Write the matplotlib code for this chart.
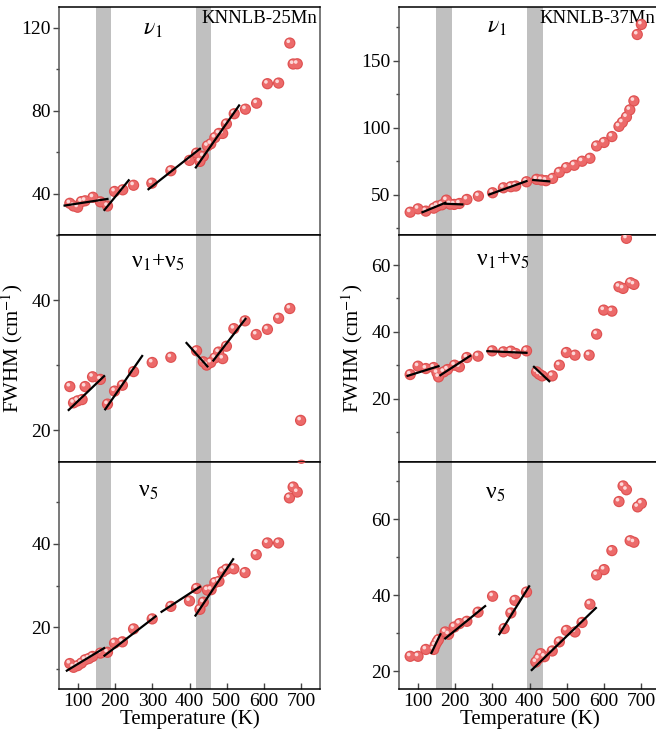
import matplotlib
matplotlib.use('Agg')
import matplotlib.pyplot as plt
from matplotlib.transforms import offset_copy
from matplotlib.ticker import MultipleLocator

plt.rcParams['font.family'] = ['Liberation Serif', 'DejaVu Serif']
plt.rcParams['mathtext.fontset'] = 'stix'

# ---- KNNLB-25Mn ----
t25_v1 = [79, 89, 100, 110, 120, 141, 161, 180, 199, 221, 250, 299, 350, 400, 419, 428, 437,
          448, 457, 468, 479, 489, 499, 520, 550, 580, 609, 639, 669, 678, 689]
w25_v1 = [35.3, 34, 33.4, 36.1, 36.5, 38.2, 36, 34, 41, 41.8, 44, 45, 51, 56, 59.5, 55.5, 58,
          63, 64, 67, 69, 69, 73.6, 78.5, 80.7, 83.6, 93, 93.3, 112.6, 102.5, 102.6]
fit25_v1 = [([65, 180], [34.2, 37.4]), ([172, 237], [32.1, 46.4]),
            ([290, 428], [42.1, 61.6]), ([417, 533], [52.6, 82.5])]

t25_v15 = [79, 89, 100, 112, 120, 140, 161, 180, 199, 220, 250, 300, 350, 419, 437, 446, 457,
           468, 478, 489, 499, 519, 549, 579, 609, 639, 669, 698, 700]
w25_v15 = [26.7, 24.2, 24.5, 24.7, 26.7, 28.2, 27.8, 24, 26, 26.9, 29, 30.4, 31.2, 32.2, 30.5,
           30, 30.4, 31.1, 32, 31, 32.9, 35.6, 36.8, 34.7, 35.5, 37.2, 38.7, 21.5, 14.6]
fit25_v15 = [([76, 171], [23.1, 28.3]), ([174, 273], [23.2, 31.4]),
             ([392, 448], [33.4, 29.8]), ([464, 550], [30.7, 37.1])]

t25_v5 = [79, 89, 100, 110, 120, 130, 140, 161, 180, 199, 220, 250, 300, 350, 400, 419, 428,
          437, 448, 458, 468, 479, 489, 499, 519, 549, 579, 609, 639, 668, 678, 689, 700]
w25_v5 = [11.3, 10.4, 10.8, 11.4, 12.2, 12.5, 13, 13.8, 14, 16.2, 16.5, 19.6, 22, 25, 26.3,
          29.3, 24.3, 26, 28.9, 29, 30.7, 31, 33.3, 33.9, 34, 33.1, 37.4, 40.2, 40.2, 51,
          53.6, 52.4, 60.5]
fit25_v5 = [([71, 171], [9.6, 15]), ([172, 309], [13.2, 22.6]),
            ([325, 428], [23.7, 29.7]), ([416, 517], [22.8, 36.3])]

# ---- KNNLB-37Mn ----
t37_v1 = [80, 101, 122, 143, 152, 165, 177, 187, 198, 212, 232, 263, 301, 330, 350, 363, 392,
          419, 432, 444, 462, 480, 499, 520, 541, 562, 580, 600, 621, 640, 649, 660, 669, 680,
          689, 700]
w37_v1 = [37, 39.5, 37.8, 40, 41.5, 42.5, 46, 43, 42.8, 43.5, 46.5, 49, 51.5, 55.2, 56, 56.5,
          59.7, 61.5, 61, 60.5, 62.2, 66.7, 70.2, 72, 75, 77.2, 86.4, 89, 93.4, 101, 104, 108,
          113.3, 120, 169.5, 177]
fit37_v1 = [([113, 174], [37, 44]), ([174, 220], [43.3, 42.8]),
            ([292, 392], [50.2, 60.2]), ([410, 453], [61, 60])]

t37_v15 = [80, 101, 122, 143, 152, 156, 170, 180, 199, 212, 232, 262, 300, 330, 350, 363, 392,
           419, 426, 434, 461, 480, 499, 522, 560, 580, 599, 621, 640, 651, 660, 671, 680]
w37_v15 = [27.2, 29.7, 29, 29.3, 27.7, 26.5, 28, 28.7, 30, 29.5, 32.3, 32.7, 34.3, 34, 34.2,
           33.5, 34.3, 28, 27.3, 26.8, 26.8, 30, 33.8, 33, 33, 39.3, 46.5, 46.2, 53.5, 53, 68,
           54.7, 54.2]
fit37_v15 = [([73, 156], [26.8, 29.7]), ([161, 241], [27, 32.8]),
             ([287, 392], [34.2, 33.7]), ([412, 453], [29.5, 25.2])]

t37_v5 = [80, 101, 122, 143, 147, 152, 156, 174, 183, 198, 212, 232, 262, 301, 332, 350, 361,
          392, 417, 424, 430, 440, 461, 480, 499, 522, 541, 562, 580, 600, 621, 640, 651, 660,
          670, 680, 690, 700]
w37_v5 = [23.9, 23.9, 25.7, 25.7, 26.8, 27.7, 28.3, 30.3, 29.7, 31.6, 32.5, 33.1, 35.5, 39.7,
          31.2, 35.3, 38.6, 40.8, 22.4, 23.3, 24.6, 23.8, 25.3, 27.7, 30.7, 30.3, 32.8, 37.6,
          45.3, 46.7, 51.7, 64.6, 68.7, 67.7, 54.3, 53.9, 63.2, 64.1]
fit37_v5 = [([137, 161], [24.8, 29.7]), ([174, 281], [28.6, 37.1]),
            ([319, 399], [29.7, 42.3]), ([406, 578], [20.3, 36.6])]

bands25 = [(150, 190), (418, 457)]
bands37 = [(150, 191), (393, 435)]

fig = plt.figure(figsize=(6.56, 7.33), dpi=100)
W, H = 656.0, 733.0


def make_ax(x0, y_top, y_bot):
    return fig.add_axes([x0 / W, 1 - y_bot / H, 261 / W, (y_bot - y_top) / H])


rows = [(7, 235), (235, 462), (462, 689)]
left = [make_ax(59, a, b) for a, b in rows]
right = [make_ax(399, a, b) for a, b in rows]

panels = [
    (left[0], t25_v1, w25_v1, fit25_v1, bands25, (20, 130), 40, 20),
    (left[1], t25_v15, w25_v15, fit25_v15, bands25, (15.1, 50), 20, 10),
    (left[2], t25_v5, w25_v5, fit25_v5, bands25, (5.2, 59.6), 20, 10),
    (right[0], t37_v1, w37_v1, fit37_v1, bands37, (20, 190), 50, 25),
    (right[1], t37_v15, w37_v15, fit37_v15, bands37, (1, 69), 20, 10),
    (right[2], t37_v5, w37_v5, fit37_v5, bands37, (15.3, 75), 20, 10),
]

for ax, t, w, fits, bands, ylim, major, minor in panels:
    for a, b in bands:
        ax.axvspan(a, b, color='#c0c0c0', lw=0, zorder=1)
    ax.scatter(t, w, s=66, color='#de5050', edgecolors='none', zorder=3)
    ax.scatter(t, w, s=42, color='#ec6a6a', edgecolors='none', zorder=3.1)
    hl = offset_copy(ax.transData, fig=fig, x=-1.5, y=1.8, units='dots')
    ax.scatter(t, w, s=7, color='#fcd8d8', edgecolors='none', zorder=3.2, transform=hl)
    for xs, ys in fits:
        ax.plot(xs, ys, color='black', lw=1.6, zorder=4)
    ax.set_xlim(50, 750)
    ax.set_ylim(*ylim)
    ax.yaxis.set_major_locator(MultipleLocator(major))
    ax.yaxis.set_minor_locator(MultipleLocator(minor))
    ax.tick_params(axis='y', which='major', direction='out', length=4, width=1,
                   labelsize=14, color='#444', pad=2)
    ax.tick_params(axis='y', which='minor', direction='out', length=2.5, width=1, color='#444')
    ax.tick_params(axis='x', which='major', direction='in', length=4, width=1,
                   labelsize=14, color='#444', pad=3)
    for s in ax.spines.values():
        s.set_color('#555')
        s.set_linewidth(1.1)
    ax.spines['top'].set_color('black')
    ax.spines['bottom'].set_color('black')
    ax.set_xticks([100, 200, 300, 400, 500, 600, 700])

for ax in left[:2] + right[:2]:
    ax.tick_params(axis='x', labelbottom=False, length=0)

left[2].set_xlabel('Temperature (K)', fontsize=15, labelpad=-1)
right[2].set_xlabel('Temperature (K)', fontsize=15, labelpad=-1)
left[1].set_ylabel('FWHM (cm$^{-1}$)', fontsize=15, labelpad=4)
right[1].set_ylabel('FWHM (cm$^{-1}$)', fontsize=15, labelpad=4)

lab = dict(fontsize=17, ha='center', va='center')
left[0].text(0.36, 0.9, r'$\nu_1$', transform=left[0].transAxes, **lab)
right[0].text(0.375, 0.91, r'$\nu_1$', transform=right[0].transAxes, **lab)
left[1].text(0.38, 0.88, r'ν$_1$+ν$_5$', transform=left[1].transAxes, **lab)
right[1].text(0.40, 0.89, r'ν$_1$+ν$_5$', transform=right[1].transAxes, **lab)
left[2].text(0.34, 0.87, r'ν$_5$', transform=left[2].transAxes, **lab)
right[2].text(0.37, 0.86, r'ν$_5$', transform=right[2].transAxes, **lab)
left[0].text(0.99, 0.985, 'KNNLB-25Mn', transform=left[0].transAxes, fontsize=13.5,
             ha='right', va='top', zorder=2)
right[0].text(0.54, 0.985, 'KNNLB-37Mn', transform=right[0].transAxes, fontsize=13.5,
              ha='left', va='top', zorder=2)

fig.savefig('out.png', dpi=100)
